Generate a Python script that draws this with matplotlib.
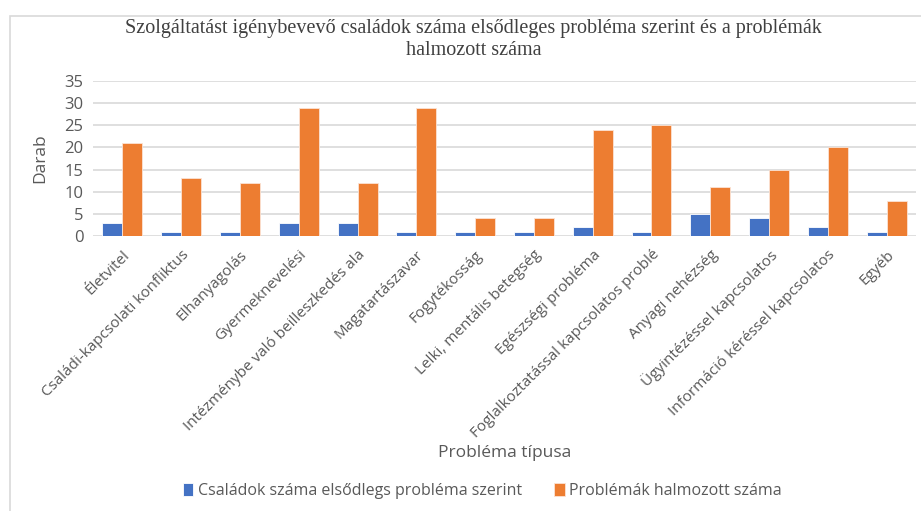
import numpy as np
import matplotlib
matplotlib.use("Agg")
import matplotlib.pyplot as plt
from matplotlib.patches import Rectangle

categories = ["Életvitel", "Családi-kapcsolati konfliktus", "Elhanyagolás",
              "Gyermeknevelési", "Intézménybe való beilleszkedés ala",
              "Magatartászavar", "Fogytékosság", "Lelki, mentális betegség",
              "Egészségi probléma", "Foglalkoztatással kapcsolatos problé",
              "Anyagi nehézség", "Ügyintézéssel kapcsolatos",
              "Információ kéréssel kapcsolatos", "Egyéb"]
csaladok = [3, 1, 1, 3, 3, 1, 1, 1, 2, 1, 5, 4, 2, 1]
problemak = [21, 13, 12, 29, 12, 29, 4, 4, 24, 25, 11, 15, 20, 8]
yticks = [0, 5, 10, 15, 20, 25, 30, 35]

label_font = "Open Sans"
gray = "#595959"

fig = plt.figure(figsize=(9.21, 5.11), dpi=100)
ax = fig.add_axes([0.101, 0.538, 0.8936, 0.3035])

x = np.arange(len(categories))
w = 0.34
ax.bar(x - w / 2, csaladok, w, color="#4472C4", edgecolor="white", linewidth=0.6,
       label="Családok száma elsődlegs probléma szerint", zorder=3)
ax.bar(x + w / 2, problemak, w, color="#ED7D31", edgecolor="#FBE3D4", linewidth=0.6,
       label="Problémák halmozott száma", zorder=3)

ax.set_xlim(-0.5, len(categories) - 0.5)
ax.set_ylim(0, 35)
ax.set_yticks(yticks)
ax.yaxis.grid(True, color="#D9D9D9", linewidth=1.2, zorder=0)
for s in ax.spines.values():
    s.set_visible(False)
ax.tick_params(axis="both", length=0, colors=gray)
ax.tick_params(axis="y", pad=7, labelsize=12)
for t in ax.get_yticklabels():
    t.set_fontfamily(label_font)

ax.set_xticks(x)
ax.set_xticklabels(categories, rotation=45, ha="right", rotation_mode="anchor",
                   fontsize=11, color=gray, family=label_font)
ax.tick_params(axis="x", pad=8)

ax.set_ylabel("Darab", fontsize=12.5, color=gray, family=label_font)
ax.yaxis.set_label_coords(-0.055, 0.5)
ax.set_xlabel("Probléma típusa", fontsize=12.5, color=gray, family=label_font)
ax.xaxis.set_label_coords(0.5, -1.345)

fig.suptitle("Szolgáltatást igénybevevő családok száma elsődleges probléma szerint és a problémák\nhalmozott száma",
             x=0.514, y=0.963, fontsize=14.5, family="Liberation Serif", color="#404040",
             linespacing=1.2)

fig.legend(loc="center", bbox_to_anchor=(0.524, 0.039), ncol=2, frameon=False,
           prop={"family": label_font, "size": 11.5}, labelcolor=gray,
           handlelength=0.65, handleheight=0.9, handletextpad=0.3, columnspacing=2.0)

# outer chart border
fig.patches.append(Rectangle((10 / 921, -0.01), 1.0, 1 - 16 / 511 + 0.01,
                             transform=fig.transFigure, fill=False,
                             edgecolor="#D9D9D9", linewidth=1.2))

fig.savefig("out.png", dpi=100)
